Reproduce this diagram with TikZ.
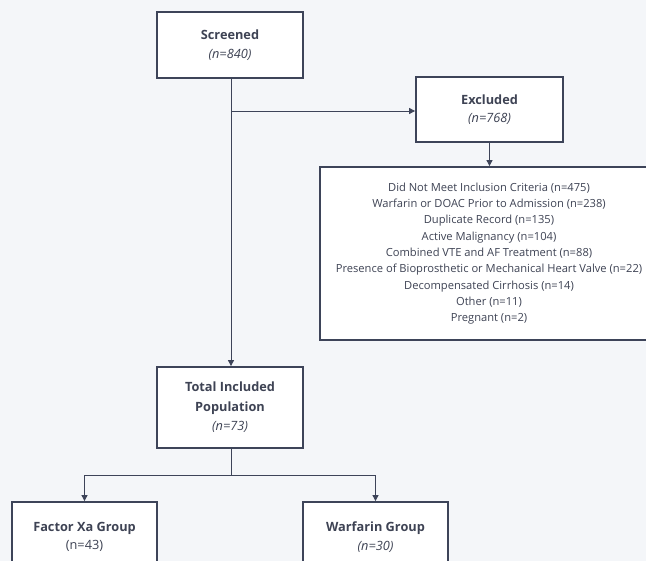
\documentclass[tikz,border=0pt]{standalone}
\usepackage{fontspec}
\setmainfont{Open Sans}
\usetikzlibrary{arrows.meta}
\definecolor{bgc}{HTML}{F4F6F9}
\definecolor{edgec}{HTML}{3D4459}
\definecolor{txtc}{HTML}{3E4354}
\tikzset{
  x=1bp,y=-1bp,
  boxst/.style={draw=edgec,line width=1.8bp,fill=white,inner sep=0pt,align=center,text=txtc,font=\fontsize{12.8}{18.5}\selectfont},
  listst/.style={draw=edgec,line width=1.8bp,fill=white,inner sep=0pt,align=center,text=txtc,font=\fontsize{11.2}{16.4}\selectfont},
  conn/.style={draw=edgec,line width=0.9bp},
  arr/.style={conn,-{Triangle[length=6bp,width=6bp]}}
}
\begin{document}
\begin{tikzpicture}
\useasboundingbox[fill=bgc] (0,0) rectangle (646,561);
\node[boxst,minimum width=146bp,minimum height=66bp] (scr) at (230,45) {\textbf{Screened}\\\textit{(n=840)}};
\node[boxst,minimum width=147bp,minimum height=65bp] (exc) at (489.5,109.5) {\textbf{Excluded}\\\textit{(n=768)}};
\node[listst,minimum width=338bp,minimum height=173bp] (lst) at (489,253.5) {Did Not Meet Inclusion Criteria (n=475)\\Warfarin or DOAC Prior to Admission (n=238)\\Duplicate Record (n=135)\\Active Malignancy (n=104)\\Combined VTE and AF Treatment (n=88)\\Presence of Bioprosthetic or Mechanical Heart Valve (n=22)\\Decompensated Cirrhosis (n=14)\\Other (n=11)\\Pregnant (n=2)};
\node[boxst,minimum width=146bp,minimum height=81bp,font=\fontsize{12.8}{19.5}\selectfont] (tot) at (230,407.5) {\textbf{Total Included}\\\textbf{Population}\\\textit{(n=73)}};
\node[boxst,minimum width=145bp,minimum height=70bp] (fxa) at (84.5,537) {\textbf{Factor Xa Group}\\(n=43)};
\node[boxst,minimum width=145bp,minimum height=70bp] (war) at (375.5,537) {\textbf{Warfarin Group}\\\textit{(n=30)}};
\coordinate (br) at (231,111);
\coordinate (sp) at (231,475);
\draw[arr] (scr.south -| br) -- (tot.north -| br);
\draw[arr] (br) -- (exc.west |- br);
\draw[arr] (exc.south) -- (lst.north -| exc.south);
\draw[conn] (tot.south -| sp) -- (sp);
\draw[arr] (sp) -| (fxa.north);
\draw[arr] (sp) -| (war.north);
\end{tikzpicture}
\end{document}
